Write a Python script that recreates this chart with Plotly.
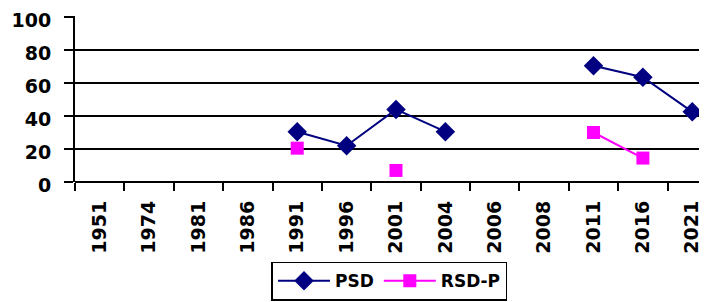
import plotly.graph_objects as go

years = ["1951", "1974", "1981", "1986", "1991", "1996", "2001", "2004",
         "2006", "2008", "2011", "2016", "2021"]
psd = [None, None, None, None, 30.5, 22, 44, 30.5, None, None, 70.5, 63.5, 42.5]
rsd_p = [None, None, None, None, 20.5, None, 7, None, None, None, 30, 14.5, None]
y_ticks = [0, 20, 40, 60, 80, 100]

FONT = "DejaVu Sans"

fig = go.Figure()
fig.add_trace(go.Scatter(
    x=years, y=psd, name="PSD", mode="lines+markers",
    line=dict(color="#000080", width=2),
    marker=dict(symbol="diamond", size=15, color="#000080"),
    connectgaps=False,
))
fig.add_trace(go.Scatter(
    x=years, y=rsd_p, name="RSD-P", mode="lines+markers",
    line=dict(color="#FF00FF", width=2),
    marker=dict(symbol="square", size=13, color="#FF00FF"),
    connectgaps=False,
))

fig.update_layout(
    width=707, height=302,
    margin=dict(l=67, r=0, t=8, b=128, autoexpand=False),
    paper_bgcolor="white", plot_bgcolor="white",
    font=dict(family=FONT, size=18, color="black"),
    showlegend=True,
    legend=dict(
        orientation="h", x=0.307, xanchor="left", y=-0.48, yanchor="top",
        bordercolor="black", borderwidth=1.5,
        font=dict(family=FONT, size=17, color="black", weight="bold"),
        itemwidth=52, tracegroupgap=0,
    ),
    xaxis=dict(
        type="category", categoryorder="array", categoryarray=years,
        range=[-0.5, 12.46], tickson="boundaries", automargin=False,
        ticks="outside", ticklen=8, tickwidth=1.5, tickcolor="black",
        tickangle=-90, showgrid=False, showline=False, zeroline=False,
        ticklabelstandoff=14,
        tickfont=dict(family=FONT, size=19, color="black", weight="bold"),
    ),
    yaxis=dict(
        range=[0, 100.6], tickvals=y_ticks, ticktext=[str(v) for v in y_ticks],
        automargin=False, ticklabeloverflow="allow", ticklabelshift=3,
        ticks="outside", ticklen=9, tickwidth=1.5, tickcolor="black",
        showgrid=True, gridcolor="black", gridwidth=1.5,
        showline=True, linecolor="black", linewidth=2,
        zeroline=True, zerolinecolor="black", zerolinewidth=2,
        ticklabelstandoff=9,
        tickfont=dict(family=FONT, size=19, color="black", weight="bold"),
    ),
)

fig.write_html("out.html")
